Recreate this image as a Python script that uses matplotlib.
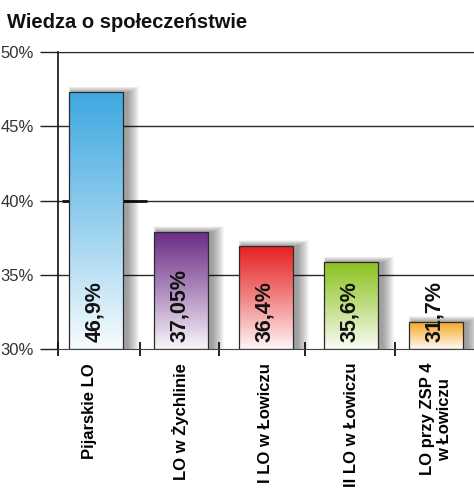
import numpy as np
import matplotlib
matplotlib.use("Agg")
import matplotlib.pyplot as plt
from matplotlib.colors import LinearSegmentedColormap, to_rgb
from matplotlib.patches import Rectangle
import matplotlib.transforms as mtransforms

plt.rcParams['font.family'] = ['Liberation Sans', 'DejaVu Sans']

title = "Wiedza o społeczeństwie"
categories = ["Pijarskie LO", "LO w Żychlinie", "I LO w Łowiczu", "II LO w Łowiczu", "LO przy ZSP 4\nw Łowiczu"]
bar_values = [47.3, 37.9, 36.95, 35.85, 31.85]
value_labels = ["46,9%", "37,05%", "36,4%", "35,6%", "31,7%"]
bar_colors = ["#3ea8e0", "#6a2a86", "#e61e1e", "#8cc21f", "#f7a51f"]
yticks = [30, 35, 40, 45, 50]
ytick_labels = ["30%", "35%", "40%", "45%", "50%"]

W, H = 474, 490
fig = plt.figure(figsize=(W / 100, H / 100), dpi=100)
ax = fig.add_axes([58 / W, 1 - 349 / H, 1 - 58 / W, (349 - 52) / H])

x = np.arange(len(categories))
xl0, xl1 = -0.447, len(categories) - 1 + 0.447
ax.set_xlim(xl0, xl1)
ax.set_ylim(30, 50)

# grid
for yv in yticks[1:]:
    ax.axhline(yv, color="#2a2a2a", lw=1.0, zorder=0)
ax.hlines(40, xl0 + 0.05, 0.6, color="#111111", lw=2.0, zorder=0.5)

width = 0.635
ymin = 30
# soft shadows
px = 1.0 / 85.0
py = 20.0 / 297.0
for xi, v in zip(x, bar_values):
    n = 12
    for k in range(n):
        grow = k * 1.0
        ax.add_patch(Rectangle((xi - width / 2 + (3 - grow * 0.3) * px, ymin),
                               width + (grow * 1.3 + 2) * px, v - ymin + (grow * 0.5) * py,
                               facecolor="black", edgecolor="none", alpha=0.035, zorder=1))

for xi, v, c in zip(x, bar_values, bar_colors):
    rgb = np.array(to_rgb(c))
    mid = rgb * 0.55 + 0.45
    bot = rgb * 0.04 + 0.96
    cmap = LinearSegmentedColormap.from_list("g", [bot, mid, rgb])
    grad = np.linspace(0, 1, 256).reshape(-1, 1)
    x0, x1 = xi - width / 2, xi + width / 2
    im = ax.imshow(grad, cmap=cmap, origin="lower", aspect="auto",
                   extent=[x0, x1, ymin, v], zorder=2, interpolation="bicubic")
    rect = Rectangle((x0, ymin), width, v - ymin, facecolor="none",
                     edgecolor="#2b2b2b", lw=0.9, zorder=3)
    ax.add_patch(rect)
    im.set_clip_path(rect)

for xi, lab in zip(x, value_labels):
    ax.text(xi - 0.02, 30.5, lab, rotation=90, ha="center", va="bottom",
            fontsize=15.5, fontweight="bold", color="#111111", zorder=5)

ax.set_xlim(xl0, xl1)
ax.set_ylim(30, 50)

ax.set_yticks(yticks)
ax.set_yticklabels(ytick_labels, fontsize=12, color="#333333")
ax.tick_params(axis="y", length=13, width=1, color="#222222", pad=4.5)

ax.set_xticks(x)
ax.set_xticklabels(categories, rotation=90, fontsize=12, fontweight="bold",
                   va="top", ha="center", multialignment="center")
ax.tick_params(axis="x", which="major", length=0, pad=10)
shift = mtransforms.ScaledTranslation(-6 / 100, 0, fig.dpi_scale_trans)
lbls = ax.get_xticklabels()
lbls[0].set_transform(lbls[0].get_transform() + shift)
ax.set_xticks([xl0 + 0.001, 0.52, 1.45, 2.46, 3.52], minor=True)
ax.tick_params(axis="x", which="minor", length=10, width=1.3, color="#111111", direction="inout")

ax.spines["right"].set_visible(False)
ax.spines["top"].set_color("#2a2a2a")
ax.spines["left"].set_color("#111111")
ax.spines["left"].set_linewidth(1.2)
ax.spines["bottom"].set_color("#444444")
ax.spines["bottom"].set_linewidth(0.8)

fig.text(7 / W, 1 - 22 / H, title, fontsize=14.5, fontweight="bold", color="#111111",
         ha="left", va="center")

fig.savefig("out.png", dpi=100)
